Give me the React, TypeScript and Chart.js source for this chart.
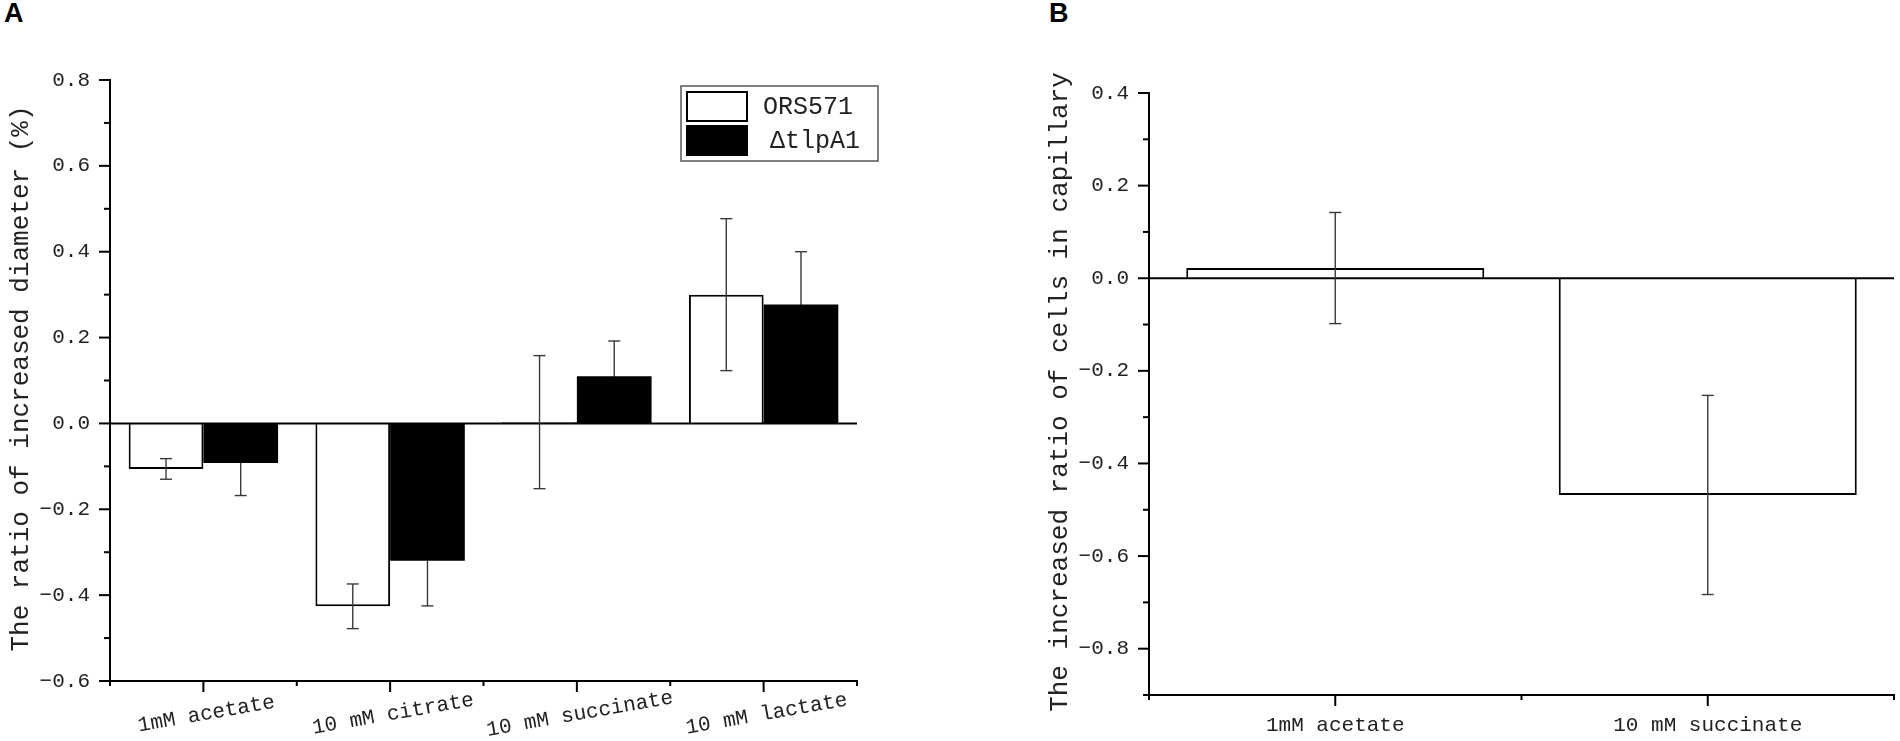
import { useEffect, useRef } from 'react';
import { Chart, registerables } from 'chart.js';

Chart.register(...registerables);

// Panel A: ratio of increased diameter
const diamCategories = ['1mM acetate', '10 mM citrate', '10 mM succinate', '10 mM lactate'];
const ors571Values = [-0.106, -0.426, 0.003, 0.3];
const ors571Errors = [0.024, 0.052, 0.155, 0.177];
const tlpA1Values = [-0.092, -0.32, 0.11, 0.277];
const tlpA1Errors = [0.076, 0.105, 0.082, 0.123];
const diamRange = [-0.6, 0.8];

// Panel B: increased ratio of cells in capillary
const capCategories = ['1mM acetate', '10 mM succinate'];
const capValues = [0.022, -0.468];
const capErrors = [0.12, 0.215];
const capRange = [-0.9, 0.4];

const MONO = "'Liberation Mono', 'DejaVu Sans Mono', monospace";
const INK = '#222';

// ticks every 0.1, labels only on every 0.2
function tenths(scale: any) {
  const lo = Math.round(scale.min * 10);
  const hi = Math.round(scale.max * 10);
  const out = [];
  for (let k = lo; k <= hi; k++) out.push({ value: k / 10 });
  scale.ticks = out;
}

function yTickLabel(v: any) {
  const k = Math.round(Number(v) * 10);
  if (k % 2 !== 0) return '';
  const s = Math.abs(k / 10).toFixed(1);
  return k < 0 ? '\u2212' + s : s;
}

function seg(ctx: CanvasRenderingContext2D, x1: number, y1: number, x2: number, y2: number) {
  ctx.beginPath();
  ctx.moveTo(x1, y1);
  ctx.lineTo(x2, y2);
  ctx.stroke();
}

const axisMarks = {
  id: 'axisMarks',
  afterDatasetsDraw(chart: any) {
    const { ctx, chartArea: a } = chart;
    const x = chart.scales.x;
    const y = chart.scales.y;
    ctx.save();
    ctx.strokeStyle = '#000';
    ctx.lineWidth = 2;
    // zero line
    const y0 = y.getPixelForValue(0);
    seg(ctx, a.left, y0, a.right, y0);
    // y ticks (outside)
    y.ticks.forEach((t: any) => {
      const py = y.getPixelForValue(t.value);
      const len = Math.round(t.value * 10) % 2 === 0 ? 11 : 6;
      seg(ctx, a.left - len, py, a.left, py);
    });
    // x ticks: long at categories, short at boundaries
    const n = chart.data.labels.length;
    const step = (a.right - a.left) / n;
    for (let k = 0; k <= n; k++) {
      const px = a.left + k * step;
      seg(ctx, px, a.bottom, px, a.bottom + 5);
    }
    for (let i = 0; i < n; i++) {
      const px = x.getPixelForValue(i);
      seg(ctx, px, a.bottom, px, a.bottom + 11);
    }
    ctx.restore();
  },
};

// error bars: under the black bars (hidden inside them), over the white ones
function drawErrors(chart: any, dark: boolean) {
  const { ctx } = chart;
  const y = chart.scales.y;
  ctx.save();
  ctx.strokeStyle = '#3a3a3a';
  ctx.lineWidth = 1.4;
  chart.data.datasets.forEach((ds: any, di: number) => {
    const errs = ds.errorBars;
    if (!errs || (ds.backgroundColor === '#000') !== dark) return;
    chart.getDatasetMeta(di).data.forEach((bar: any, i: number) => {
      const v = ds.data[i];
      const e = errs[i];
      const px = bar.x;
      const top = y.getPixelForValue(v + e);
      const bot = y.getPixelForValue(v - e);
      seg(ctx, px, top, px, bot);
      seg(ctx, px - 6, top, px + 6, top);
      seg(ctx, px - 6, bot, px + 6, bot);
    });
  });
  ctx.restore();
}

const errorBars = {
  id: 'errorBars',
  beforeDatasetsDraw(chart: any) {
    drawErrors(chart, true);
  },
  afterDatasetsDraw(chart: any) {
    drawErrors(chart, false);
  },
};

function yTitle(text: string, cx: number) {
  return {
    id: 'yTitle',
    afterDraw(chart: any) {
      const { ctx, chartArea: a } = chart;
      ctx.save();
      ctx.translate(cx, (a.top + a.bottom) / 2 - 2);
      ctx.rotate(-Math.PI / 2);
      ctx.font = `26px ${MONO}`;
      ctx.fillStyle = INK;
      ctx.textAlign = 'center';
      ctx.textBaseline = 'middle';
      ctx.fillText(text, 0, 0);
      ctx.restore();
    },
  };
}

// slanted category labels + boxed legend for panel A
const diamDecor = {
  id: 'diamDecor',
  afterDraw(chart: any) {
    const { ctx, chartArea: a } = chart;
    const x = chart.scales.x;
    ctx.save();
    ctx.font = `21px ${MONO}`;
    ctx.fillStyle = INK;
    ctx.textAlign = 'center';
    ctx.textBaseline = 'middle';
    chart.data.labels.forEach((lab: string, i: number) => {
      ctx.save();
      ctx.translate(x.getPixelForValue(i) + 3, a.bottom + 33);
      ctx.rotate((-10 * Math.PI) / 180);
      ctx.fillText(lab, 0, 0);
      ctx.restore();
    });

    const bx = a.right - 176;
    const by = a.top + 6;
    ctx.strokeStyle = '#555';
    ctx.lineWidth = 1.5;
    ctx.strokeRect(bx, by, 197, 75);
    ctx.font = `25px ${MONO}`;
    ctx.textAlign = 'left';
    chart.data.datasets.forEach((ds: any, i: number) => {
      const sy = by + 5 + i * 34;
      ctx.fillStyle = ds.backgroundColor;
      ctx.fillRect(bx + 5, sy, 62, 31);
      ctx.strokeStyle = '#000';
      ctx.lineWidth = 2;
      ctx.strokeRect(bx + 6, sy + 1, 60, 29);
      ctx.fillStyle = INK;
      ctx.fillText(ds.label, bx + 82 + i * 7, sy + 16);
    });
    ctx.restore();
  },
};

function baseScales(range: number[], yWidth: number, xHeight: number, showX: boolean) {
  return {
    x: {
      offset: true,
      grid: { display: false, drawTicks: false },
      border: { display: true, color: '#000', width: 2 },
      ticks: {
        display: showX,
        autoSkip: false,
        maxRotation: 0,
        minRotation: 0,
        padding: 18,
        color: INK,
        font: { family: MONO, size: 21 },
      },
      afterFit: (s: any) => {
        s.height = xHeight;
        s.paddingLeft = 0;
        s.paddingRight = 0;
      },
    },
    y: {
      min: range[0],
      max: range[1],
      grid: { display: false, drawTicks: false },
      border: { display: true, color: '#000', width: 2 },
      afterBuildTicks: tenths,
      ticks: {
        autoSkip: false,
        padding: 20,
        color: INK,
        font: { family: MONO, size: 21 },
        callback: yTickLabel,
      },
      afterFit: (s: any) => {
        s.width = yWidth;
      },
    },
  };
}

export default function App() {
  const refA = useRef<HTMLCanvasElement>(null);
  const refB = useRef<HTMLCanvasElement>(null);

  useEffect(() => {
    if (!refA.current || !refB.current) return;

    const chartA = new Chart(refA.current, {
      type: 'bar',
      data: {
        labels: diamCategories,
        datasets: [
          {
            label: 'ORS571',
            data: ors571Values,
            errorBars: ors571Errors,
            backgroundColor: '#fff',
            borderColor: '#000',
            borderWidth: 2,
            categoryPercentage: 0.8,
            barPercentage: 1,
          } as any,
          {
            label: '\u0394tlpA1',
            data: tlpA1Values,
            errorBars: tlpA1Errors,
            backgroundColor: '#000',
            borderColor: '#000',
            borderWidth: 0,
            categoryPercentage: 0.8,
            barPercentage: 1,
          } as any,
        ],
      },
      options: {
        animation: false,
        responsive: true,
        maintainAspectRatio: false,
        layout: { padding: { top: 80, right: 93, left: 0, bottom: 0 } },
        plugins: { legend: { display: false }, tooltip: { enabled: false } },
        scales: baseScales(diamRange, 110, 60, false) as any,
      },
      plugins: [axisMarks, errorBars, diamDecor, yTitle('The ratio of increased diameter (%)', 21)],
    });

    const chartB = new Chart(refB.current, {
      type: 'bar',
      data: {
        labels: capCategories,
        datasets: [
          {
            label: 'capillary',
            data: capValues,
            errorBars: capErrors,
            backgroundColor: '#fff',
            borderColor: '#000',
            borderWidth: 2,
            categoryPercentage: 0.8,
            barPercentage: 1,
          } as any,
        ],
      },
      options: {
        animation: false,
        responsive: true,
        maintainAspectRatio: false,
        layout: { padding: { top: 93, right: 6, left: 0, bottom: 0 } },
        plugins: { legend: { display: false }, tooltip: { enabled: false } },
        scales: baseScales(capRange, 199, 46, true) as any,
      },
      plugins: [axisMarks, errorBars, yTitle('The increased ratio of cells in capillary', 110)],
    });

    return () => {
      chartA.destroy();
      chartB.destroy();
    };
  }, []);

  const letter: any = {
    position: 'absolute',
    top: 0,
    fontFamily: "'Liberation Sans', Arial, sans-serif",
    fontWeight: 'bold',
    fontSize: 27,
    lineHeight: '27px',
    color: '#000',
  };

  return (
    <div style={{ position: 'absolute', left: 0, top: 0, width: 1900, height: 741, background: '#fff', overflow: 'hidden' }}>
      <div style={{ ...letter, left: 4 }}>A</div>
      <div style={{ ...letter, left: 1049 }}>B</div>
      <div style={{ position: 'absolute', left: 0, top: 0, width: 950, height: 741 }}>
        <canvas ref={refA}></canvas>
      </div>
      <div style={{ position: 'absolute', left: 950, top: 0, width: 950, height: 741 }}>
        <canvas ref={refB}></canvas>
      </div>
    </div>
  );
}
